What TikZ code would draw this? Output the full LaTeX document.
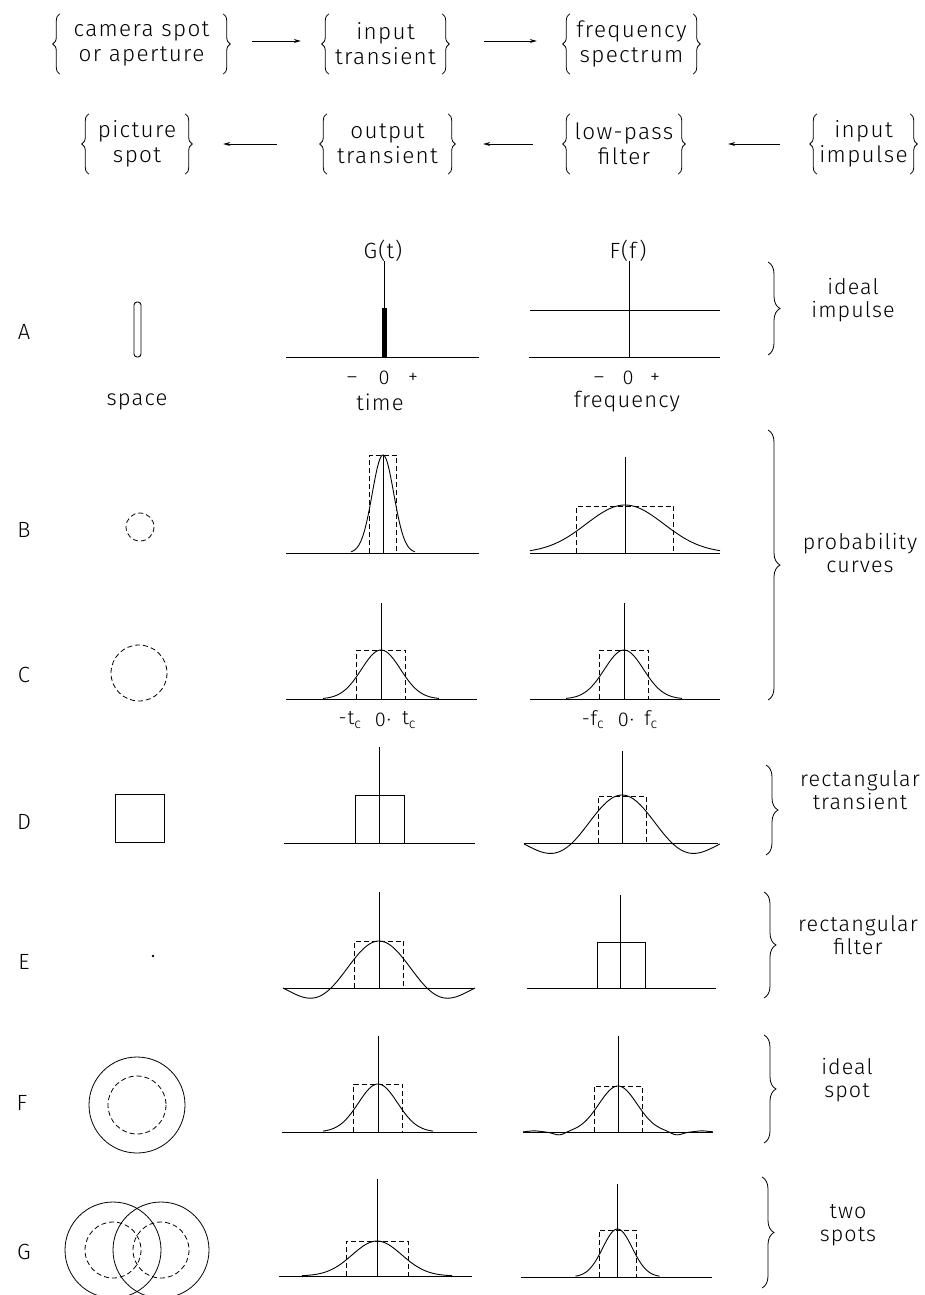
\documentclass[tikz,border=0pt]{standalone}
\usepackage{fontspec}
\setmainfont{Fira Sans}[UprightFont={* Light}, LetterSpace=5]
\usetikzlibrary{arrows.meta,decorations.pathreplacing}
\begin{document}
\begin{tikzpicture}[x=1pt,y=-1pt,
  every node/.style={font=\fontsize{22}{25}\selectfont, inner sep=0pt},
  box/.style={align=center, minimum height=60pt, font=\fontsize{22.5}{25}\selectfont\addfontfeature{LetterSpace=6}},
  br/.style={decorate, decoration={brace, amplitude=7pt}, line width=0.8pt},
  bigbr/.style={decorate, decoration={brace, amplitude=12pt}, line width=0.8pt},
  flow/.style={-{Stealth[length=7pt,width=4pt]}, line width=0.8pt},
  ax/.style={line width=1pt},
  dsh/.style={dash pattern=on 5pt off 3pt, line width=0.8pt},
  crv/.style={line width=0.9pt},
  rl/.style={align=center, font=\fontsize{21.5}{23}\selectfont},
  sm/.style={font=\fontsize{20}{20}\selectfont}
]
\useasboundingbox (0,0) rectangle (925,1295);
\clip (0,0) rectangle (925,1295);

% ---------- flow chart ----------
\node[box, minimum width=163pt] (cam) at (141.5,44) {camera spot\\or aperture};
\node[box, minimum width=113pt] (int) at (385.5,44) {input\\transient};
\node[box, minimum width=123pt] (fs) at (631.5,44) {frequency\\spectrum};
\node[box, minimum width=96pt] (ps) at (137,144) {picture\\spot};
\node[box, minimum width=121pt] (ot) at (387.5,144) {output\\transient};
\node[box, minimum width=108pt] (lp) at (624,144) {low-pass\\filter};
\node[box, minimum width=93pt] (ii) at (863.5,144) {input\\impulse};
\foreach \n in {cam,int,fs,ps,ot,lp,ii}{
  \draw[br] (\n.south west) -- (\n.north west);
  \draw[br] (\n.north east) -- (\n.south east);
}
\draw[flow] ([xshift=29pt,yshift=3pt]cam.east) -- ([xshift=-28pt,yshift=3pt]int.west);
\draw[flow] ([xshift=42pt,yshift=3pt]int.east) -- ([xshift=-33pt,yshift=3pt]fs.west);
\draw[flow] ([xshift=-50pt]ot.west) -- ([xshift=38pt]ps.east);
\draw[flow] ([xshift=-37pt]lp.west) -- ([xshift=35pt]ot.east);
\draw[flow] ([xshift=-37pt]ii.west) -- ([xshift=50pt]lp.east);

% ---------- headers ----------
\node (Gt) at (383,251) {G(t)};
\node (Ff) at (628,251) {F(f)};

% ---------- row labels ----------
\node (lA) at (24,332) {A};
\node (lB) at (24,530) {B};
\node (lC) at (24,675) {C};
\node (lD) at (24,822) {D};
\node (lE) at (24,962) {E};
\node (lF) at (22,1103) {F};
\node (lG) at (24,1252) {G};

% ---------- space column ----------
\draw[line width=0.9pt, rounded corners=3pt] (134,302) rectangle (141,357);
\node (space) at (137,402) {space};
\draw[dsh] (140,527) circle (14);
\draw[dsh] (139,673) circle (28);
\draw[line width=0.9pt] (115,794) rectangle (164,842);
\fill (153,956) circle (1.3);
\draw[line width=0.8pt] (137,1105) circle (48);
\draw[dsh] (137,1105) circle (29);
\draw[line width=0.8pt] (113,1250) circle (48);
\draw[line width=0.8pt] (161,1250) circle (48);
\draw[dsh] (113,1250) circle (28);
\draw[dsh] (161,1250) circle (28);

% ---------- row A ----------
\draw[ax] (286,357) -- (479,357);
\draw[ax] (384,261) -- (384,357);
\fill (381.5,308) rectangle (386.5,357);
\node[sm] at (352,380) {–};
\node[sm] at (384,378) {0};
\node[sm] at (413,378) {+};
\node (time) at (380,402) {time};
\draw[ax] (529,357) -- (720,357);
\draw[ax] (629,261) -- (629,357);
\draw[ax] (530,310) -- (720,310);
\node[sm] at (599,380) {–};
\node[sm] at (628,378) {0};
\node[sm] at (655,378) {+};
\node (freq) at (627,402) {frequency};

% ---------- row B ----------
\draw[ax] (286,553) -- (479,553);
\draw[ax] (383,455) -- (383,553);
\draw[dsh] (369.5,553) -- (369.5,455) -- (396.5,455) -- (396.5,553);
\draw[crv] plot[domain=-32:32, samples=70, smooth] ({383+\x},{553-98*exp(-pi*(\x/27)*(\x/27))});
\draw[ax] (530,553) -- (720,553);
\draw[ax] (625,457) -- (625,553);
\draw[dsh] (576.5,553) -- (576.5,506) -- (673.5,506) -- (673.5,553);
\draw[crv] plot[domain=-95:95, samples=70, smooth] ({625+\x},{553-48*exp(-pi*(\x/97)*(\x/97))});

% ---------- row C ----------
\draw[ax] (286,699) -- (477,699);
\draw[ax] (381,603) -- (381,699);
\draw[dsh] (356.5,699) -- (356.5,650) -- (405.5,650) -- (405.5,699);
\draw[crv] plot[domain=-58:58, samples=70, smooth] ({381+\x},{699-49*exp(-pi*(\x/49)*(\x/49))});
\node[sm] at (350,720) {-t\textsubscript{c}};
\node[sm] at (383,720) {0·};
\node[sm] at (409,720) {t\textsubscript{c}};
\draw[ax] (530,699) -- (720,699);
\draw[ax] (624,603) -- (624,699);
\draw[dsh] (599.5,699) -- (599.5,650) -- (648.5,650) -- (648.5,699);
\draw[crv] plot[domain=-58:58, samples=70, smooth] ({624+\x},{699-49*exp(-pi*(\x/49)*(\x/49))});
\node[sm] at (593,720) {-f\textsubscript{c}};
\node[sm] at (626,720) {0·};
\node[sm] at (651,720) {f\textsubscript{c}};

% ---------- row D ----------
\draw[ax] (284,843) -- (475,843);
\draw[ax] (379,747) -- (379,843);
\draw[line width=0.9pt] (355,843) -- (355,795) -- (404,795) -- (404,843);
\draw[ax] (524,843) -- (718,843);
\draw[ax] (622,751) -- (622,843);
\draw[dsh] (598,843) -- (598,796) -- (646,796) -- (646,843);
\draw[crv] plot[domain=-98:98, samples=90, smooth] ({622+\x},{843-48*sin(3.6*\x)/(pi*\x/50)});

% ---------- row E ----------
\draw[ax] (283,988) -- (474,988);
\draw[ax] (379,892) -- (379,988);
\draw[dsh] (354.5,988) -- (354.5,941) -- (403.5,941) -- (403.5,988);
\draw[crv] plot[domain=-96:96, samples=90, smooth] ({379+\x},{988-47*sin(3.75*\x)/(pi*\x/48)});
\draw[ax] (527,988) -- (716,988);
\draw[ax] (620,895) -- (620,988);
\draw[line width=0.9pt] (597,988) -- (597,942) -- (645,942) -- (645,988);

% ---------- row F ----------
\draw[ax] (282,1132) -- (477,1132);
\draw[ax] (378,1036) -- (378,1132);
\draw[dsh] (353.5,1132) -- (353.5,1084) -- (402.5,1084) -- (402.5,1132);
\draw[crv] plot[domain=-55:55, samples=70, smooth] ({378+\x},{1132-48*exp(-pi*(\x/49)*(\x/49))});
\draw[ax] (523,1132) -- (713,1132);
\draw[ax] (618,1036) -- (618,1132);
\draw[dsh] (594,1132) -- (594,1086) -- (642,1086) -- (642,1132);
\draw[crv] plot[domain=-95:95, samples=120, smooth] ({618+\x},{1132-46*(exp(-pi*(\x/48)*(\x/48)) - 0.07*exp(-(abs(\x)/48-1.22)*(abs(\x)/48-1.22)/0.03) + 0.025*exp(-(abs(\x)/48-1.75)*(abs(\x)/48-1.75)/0.03))});

% ---------- row G ----------
\draw[ax] (279,1276) -- (472,1276);
\draw[ax] (377,1179) -- (377,1276);
\draw[dsh] (346,1276) -- (346,1241) -- (408,1241) -- (408,1276);
\draw[crv] plot[domain=-75:75, samples=70, smooth] ({377+\x},{1276-35*exp(-pi*(\x/62)*(\x/62))});
\draw[ax] (521,1277) -- (712,1277);
\draw[ax] (617,1184) -- (617,1277);
\draw[dsh] (599,1277) -- (599,1230) -- (636,1230) -- (636,1277);
\draw[crv] plot[domain=-42:42, samples=70, smooth] ({617.5+\x},{1277-48*exp(-pi*(\x/37)*(\x/37))});

% ---------- right braces and labels ----------
\draw[bigbr] (768,262) -- (768,355);
\node[rl] (tA) at (853,300) {ideal\\impulse};
\draw[bigbr] (768,430) -- (768,700);
\node[rl] (tBC) at (860,553) {probability\\curves};
\draw[bigbr] (766,765) -- (766,855);
\node[rl] (tD) at (860,790) {rectangular\\transient};
\draw[bigbr] (764,892) -- (764,998);
\node[rl] (tE) at (858,935) {rectangular\\filter};
\draw[bigbr] (764,1035) -- (764,1143);
\node[rl] (tF) at (847,1080) {ideal\\spot};
\draw[bigbr] (762,1177) -- (762,1288);
\node[rl] (tG) at (848,1225) {two\\spots};
\end{tikzpicture}
\end{document}
